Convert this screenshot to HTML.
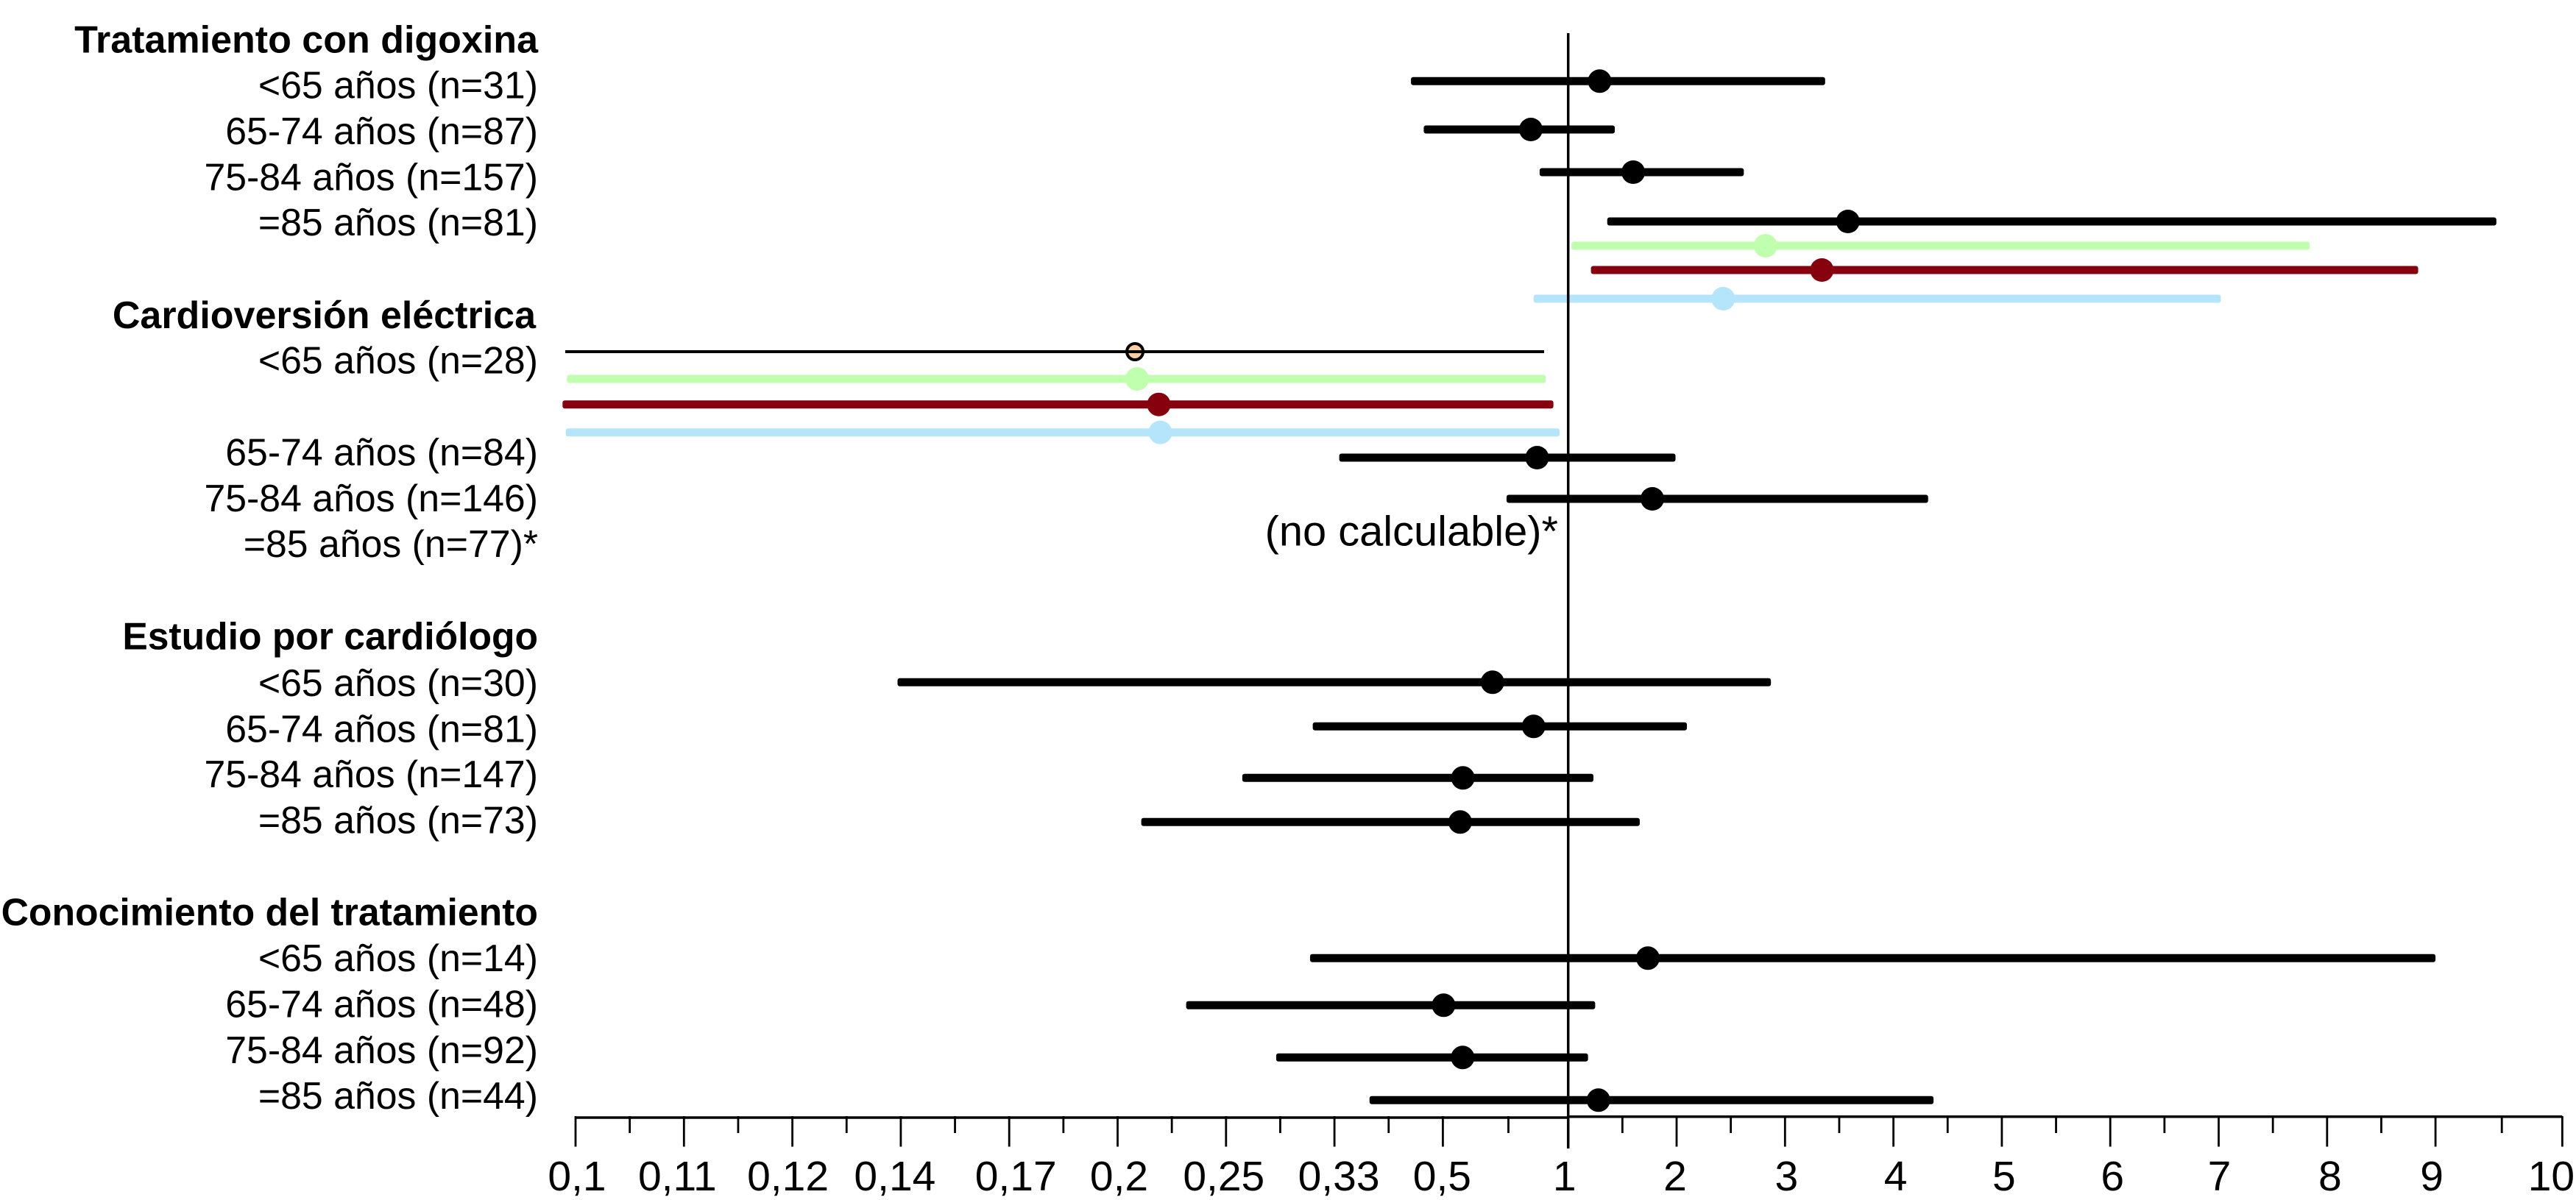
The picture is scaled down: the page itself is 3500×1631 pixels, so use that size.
<!DOCTYPE html>
<html lang="es">
<head>
<meta charset="utf-8">
<title>Forest plot</title>
<style>
html,body{margin:0;padding:0;background:#fff;width:3500px;height:1631px;overflow:hidden}
svg{display:block}
text{font-family:"Liberation Sans",sans-serif;fill:#000}
</style>
</head>
<body>
<svg id="chart" width="3500" height="1631" viewBox="0 0 3500 1631" xmlns="http://www.w3.org/2000/svg">
<rect x="0" y="0" width="3500" height="1631" fill="#fff"/>
</svg>
<script>
const tickValues = [0.1,0.11,0.12,0.14,0.17,0.2,0.25,0.33,0.5,1,2,3,4,5,6,7,8,9,10];
const tickLabels = ['0,1','0,11','0,12','0,14','0,17','0,2','0,25','0,33','0,5','1','2','3','4','5','6','7','8','9','10'];

const groupTitles = ['Tratamiento con digoxina','Cardioversión eléctrica','Estudio por cardiólogo','Conocimiento del tratamiento'];
const rowLabels = [
  '<65 años (n=31)','65-74 años (n=87)','75-84 años (n=157)','=85 años (n=81)',
  '<65 años (n=28)','65-74 años (n=84)','75-84 años (n=146)','=85 años (n=77)*',
  '<65 años (n=30)','65-74 años (n=81)','75-84 años (n=147)','=85 años (n=73)',
  '<65 años (n=14)','65-74 años (n=48)','75-84 años (n=92)','=85 años (n=44)'
];
const notCalculableNote = '(no calculable)*';

const seriesNames = ['main','main','main','main','green','red','blue','thin','green','red','blue','main','main','main','main','main','main','main','main','main','main'];
const ciLow  = [0.45,0.47,0.886,1.36,1.03,1.21,0.862,0.09905,0.0992,0.0988,0.0991,0.3375,0.754,0.1394,0.314,0.262,0.2109,0.312,0.2316,0.287,0.385];
const oddsRatio = [1.29,0.851,1.6,3.58,2.82,3.34,2.43,0.208,0.209,0.219,0.2197,0.876,1.776,0.698,0.862,0.58,0.569,1.735,0.503,0.579,1.279];
const ciHigh = [3.37,1.43,2.62,9.48,7.84,8.84,7.02,0.904,0.91,0.941,0.9655,1.99,4.32,2.87,2.095,1.233,1.66,9.0,1.249,1.183,4.37];
const referenceValue = 1;

(function draw() {
  const svg = document.getElementById('chart');
  const NS = 'http://www.w3.org/2000/svg';
  const make = function (tag) {
    const el = document.createElementNS(NS, tag);
    svg.appendChild(el);
    return el;
  };

  function tickX(i) {
    return 782 + 147.3 * i + (i >= 9 ? 23 : 0) + (i >= 18 ? 25 : 0);
  }
  function xScale(v) {
    let s = 0;
    while (s < tickValues.length - 2 && v > tickValues[s + 1]) s++;
    const t = (v - tickValues[s]) / (tickValues[s + 1] - tickValues[s]);
    return tickX(s) + t * (tickX(s + 1) - tickX(s));
  }

  const seriesColor = { main: '#000', thin: '#000', green: '#bfffae', red: '#87000e', blue: '#b5e5fb' };
  const markY = [110.3,176,234,301,334,367,406,478,515,549.7,587.7,622,678,927.3,987.3,1057.3,1117.3,1302.3,1366.3,1437.3,1495.3];
  const titleBaseline = [71.4,446,882.7,1257.7];
  const titleRight = [731,728,731,731];
  const titleSize = [52,52,51.6,51.7];
  const rowBaseline = [133.7,196,258.7,320,507.6,632.6,695,757,946,1008.6,1070,1132.7,1320,1382.7,1445,1506.8];
  const labelRight = 731;
  const tickLabelNudge = [2,-9,-6,-8,9,2,-3,6,-1,-5,-2,2,3,3,3,1,4,-5,-15];

  groupTitles.forEach(function (title, i) {
    const el = make('text');
    
    
    el.setAttribute('x', titleRight[i]);
    el.setAttribute('y', titleBaseline[i]);
    el.setAttribute('text-anchor', 'end');
    el.setAttribute('font-size', titleSize[i]);
    el.setAttribute('font-weight', 'bold');
    el.textContent = title;
  });

  rowLabels.forEach(function (label, i) {
    const el = make('text');
    
    
    el.setAttribute('x', labelRight);
    el.setAttribute('y', rowBaseline[i]);
    el.setAttribute('text-anchor', 'end');
    el.setAttribute('font-size', '51.8');
    el.textContent = label;
  });

  const note = make('text');
  
  
  note.setAttribute('x', 2117);
  note.setAttribute('y', 741.7);
  note.setAttribute('text-anchor', 'end');
  note.setAttribute('font-size', '57.8');
  note.textContent = notCalculableNote;

  ciLow.forEach(function (low, i) {
    const series = seriesNames[i];
    const thin = series === 'thin';
    const h = thin ? 4 : 11;
    const x0 = xScale(low);
    const x1 = xScale(ciHigh[i]);
    const cx = xScale(oddsRatio[i]);
    const y = markY[i];

    if (thin) {
      const dot = make('circle');
      
      
      dot.setAttribute('cx', cx);
      dot.setAttribute('cy', y);
      dot.setAttribute('r', 11);
      dot.setAttribute('fill', '#f9cfa0');
      dot.setAttribute('stroke', '#000');
      dot.setAttribute('stroke-width', 4);
    }

    const bar = make('rect');
    
    
    bar.setAttribute('x', x0);
    bar.setAttribute('y', y - h / 2);
    bar.setAttribute('width', x1 - x0);
    bar.setAttribute('height', h);
    bar.setAttribute('rx', thin ? 0 : 3);
    bar.setAttribute('fill', seriesColor[series]);

    if (!thin) {
      const dot = make('circle');
      
      
      dot.setAttribute('cx', cx);
      dot.setAttribute('cy', y);
      dot.setAttribute('r', 16);
      dot.setAttribute('fill', seriesColor[series]);
    }
  });

  const ref = make('line');
  
  
  ref.setAttribute('x1', xScale(referenceValue));
  ref.setAttribute('x2', xScale(referenceValue));
  ref.setAttribute('y1', 45);
  ref.setAttribute('y2', 1561);
  ref.setAttribute('stroke', '#000');
  ref.setAttribute('stroke-width', 3.5);

  const axisLeft = make('line');
  
  
  axisLeft.setAttribute('x1', tickX(0) - 1);
  axisLeft.setAttribute('x2', xScale(referenceValue));
  axisLeft.setAttribute('y1', 1519);
  axisLeft.setAttribute('y2', 1519);
  axisLeft.setAttribute('stroke', '#000');
  axisLeft.setAttribute('stroke-width', 3.5);

  const axisRight = make('line');
  
  
  axisRight.setAttribute('x1', xScale(referenceValue));
  axisRight.setAttribute('x2', tickX(tickValues.length - 1));
  axisRight.setAttribute('y1', 1517.8);
  axisRight.setAttribute('y2', 1517.8);
  axisRight.setAttribute('stroke', '#000');
  axisRight.setAttribute('stroke-width', 3.5);

  tickValues.forEach(function (v, i) {
    const x = tickX(i);
    const tick = make('line');
    
    
    tick.setAttribute('x1', x);
    tick.setAttribute('x2', x);
    tick.setAttribute('y1', 1517);
    tick.setAttribute('y2', 1558.5);
    tick.setAttribute('stroke', '#000');
    tick.setAttribute('stroke-width', 2.8);

    const label = make('text');
    
    
    label.setAttribute('x', x + tickLabelNudge[i]);
    label.setAttribute('y', 1618);
    label.setAttribute('text-anchor', 'middle');
    label.setAttribute('font-size', '57');
    label.textContent = tickLabels[i];

    if (i < tickValues.length - 1) {
      const next = tickX(i + 1);
      const wide = next - x > 160;
      const mx = x + (next - x) * (wide ? 0.523 : 0.5);
      const minor = make('line');
      
      
      minor.setAttribute('x1', mx);
      minor.setAttribute('x2', mx);
      minor.setAttribute('y1', 1517);
      minor.setAttribute('y2', 1540);
      minor.setAttribute('stroke', '#000');
      minor.setAttribute('stroke-width', 2.8);
    }
  });
})();
</script>
</body>
</html>
